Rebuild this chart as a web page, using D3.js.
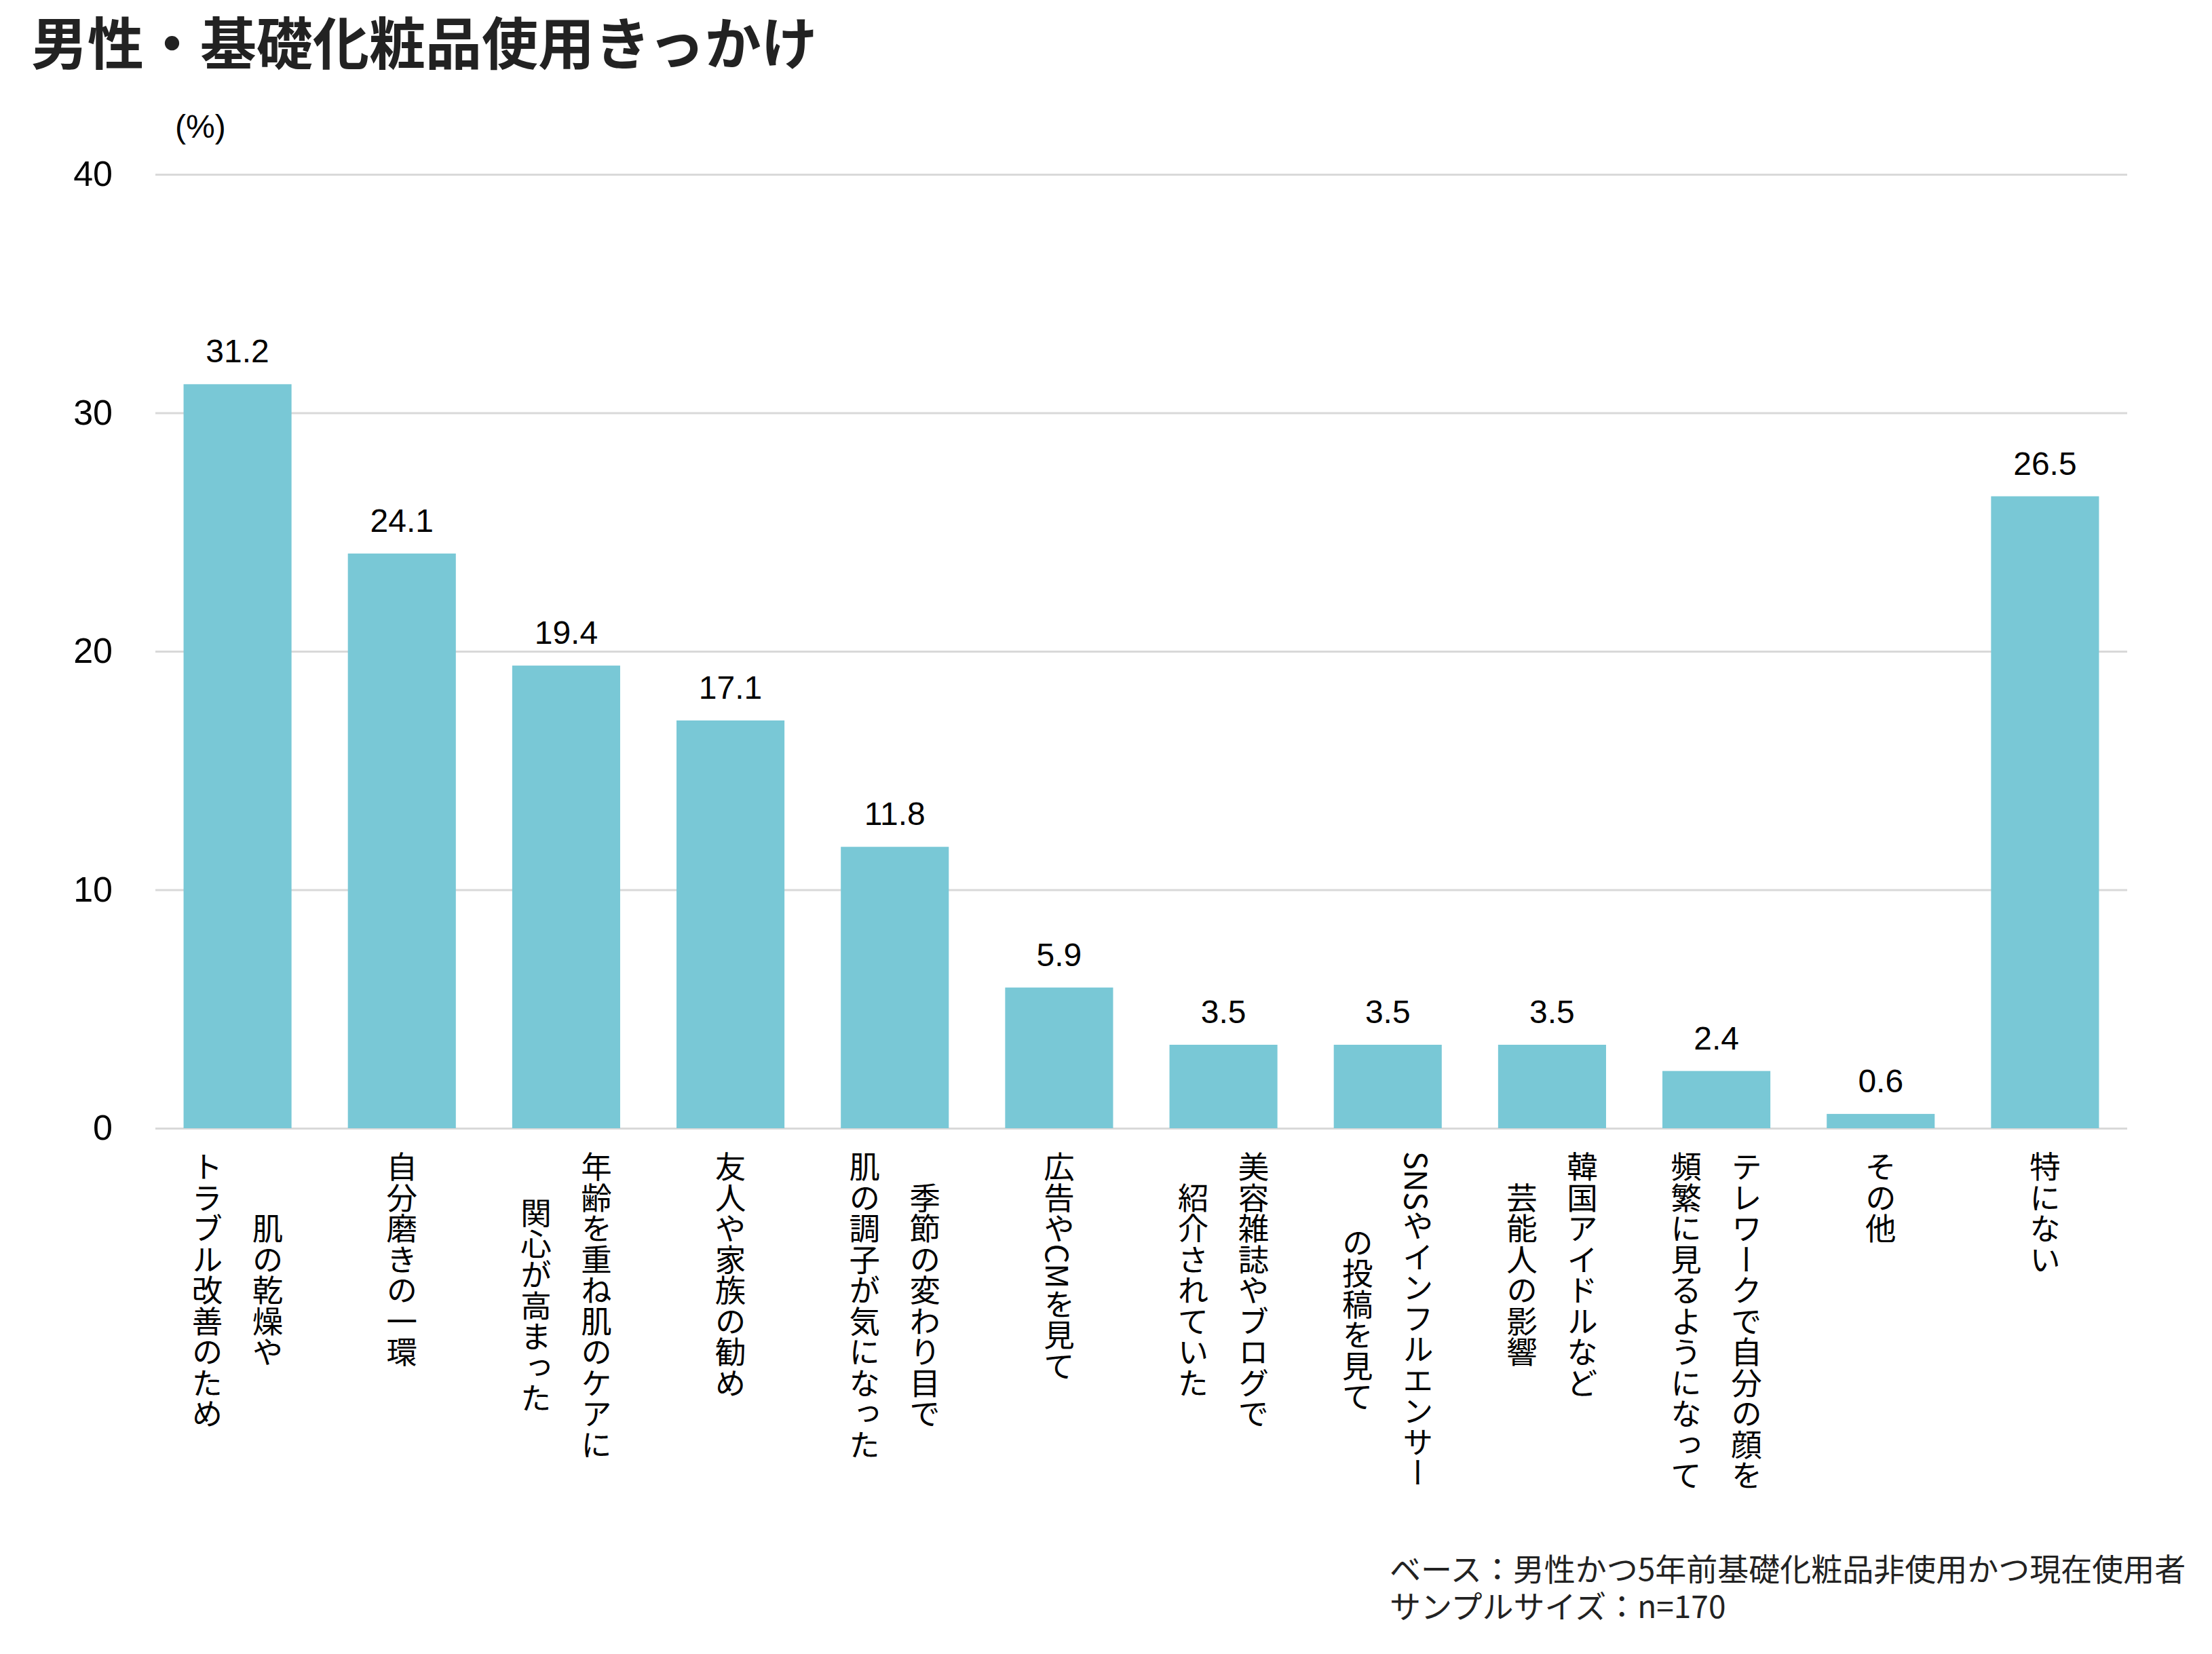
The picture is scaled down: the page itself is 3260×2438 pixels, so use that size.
<!DOCTYPE html>
<html><head><meta charset="utf-8">
<script src="https://cdn.jsdelivr.net/npm/d3@7"></script>
<style>body{margin:0;background:#fff} svg{display:block}</style>
</head><body><svg id="c" width="3260" height="2438"></svg>
<script>
const title = "男性・基礎化粧品使用きっかけ";
const unitLabel = "(%)";
const categoryLines = [
  ["肌の乾燥や","トラブル改善のため"],
  ["自分磨きの一環"],
  ["年齢を重ね肌のケアに","関心が高まった"],
  ["友人や家族の勧め"],
  ["季節の変わり目で","肌の調子が気になった"],
  ["広告やCMを見て"],
  ["美容雑誌やブログで","紹介されていた"],
  ["SNSやインフルエンサー","の投稿を見て"],
  ["韓国アイドルなど","芸能人の影響"],
  ["テレワークで自分の顔を","頻繁に見るようになって"],
  ["その他"],
  ["特にない"]
];
const values = [31.2, 24.1, 19.4, 17.1, 11.8, 5.9, 3.5, 3.5, 3.5, 2.4, 0.6, 26.5];
const yTicks = [0, 10, 20, 30, 40];
const notes = ["ベース：男性かつ5年前基礎化粧品非使用かつ現在使用者", "サンプルサイズ：n=170"];

const FONT = "'Liberation Sans', Arial, 'Noto Sans CJK JP', sans-serif";
const JFONT = "'Noto Sans CJK JP', 'Liberation Sans', sans-serif";
const svg = d3.select("#c");
const m = {left: 229, right: 3135, top: 257, bottom: 1663};

const x = d3.scaleBand().domain(d3.range(values.length)).range([m.left, m.right])
  .paddingInner(0.343).paddingOuter(0.1715);
const y = d3.scaleLinear().domain([0, 40]).range([m.bottom, m.top]);

// title
svg.append("text").attr("x", 46).attr("y", 95)
  .style("font-family", JFONT).style("font-weight", 700).style("font-size", "83px")
  .attr("fill", "#222").text(title);

// unit
svg.append("text").attr("x", 258).attr("y", 203)
  .style("font-family", FONT).style("font-size", "48px").attr("fill", "#000").text(unitLabel);

// grid + y axis
const yAxis = d3.axisLeft(y).tickValues(yTicks).tickSize(-(m.right - m.left)).tickPadding(63);
const gy = svg.append("g").attr("transform", `translate(${m.left},0)`).call(yAxis);
gy.select(".domain").remove();
gy.selectAll(".tick line").attr("stroke", "#d9d9d9").attr("stroke-width", 3);
gy.selectAll(".tick text").style("font-family", FONT).style("font-size", "52px").attr("fill", "#000");

// bars
svg.append("g").selectAll("rect").data(values).join("rect")
  .attr("x", (d, i) => x(i)).attr("width", x.bandwidth())
  .attr("y", d => y(d)).attr("height", d => y(0) - y(d))
  .attr("fill", "#79c8d6");

// value labels
svg.append("g").selectAll("text").data(values).join("text")
  .attr("x", (d, i) => x(i) + x.bandwidth() / 2).attr("y", d => y(d) - 32)
  .attr("text-anchor", "middle")
  .style("font-family", FONT).style("font-size", "48px").attr("fill", "#000")
  .text(d => d.toFixed(1));

// category labels (vertical)
const labelTop = m.bottom + 34;
const colGap = 89;
const gl = svg.append("g");
categoryLines.forEach((lines, i) => {
  const cx = x(i) + x.bandwidth() / 2;
  const n = lines.length;
  const texts = lines.map((ln, j) => gl.append("text")
    .attr("x", cx + ((n - 1) / 2 - j) * colGap)
    .attr("y", 0)
    .style("writing-mode", "vertical-rl")
    .attr("text-anchor", "middle")
    .style("font-family", JFONT).style("font-size", "45.5px").attr("fill", "#000")
    .text(ln));
  const maxLen = d3.max(texts, t => t.node().getComputedTextLength());
  texts.forEach(t => t.attr("y", labelTop + maxLen / 2));
});

// notes
svg.append("g").selectAll("text").data(notes).join("text")
  .attr("x", 2048).attr("y", (d, i) => 2330 + i * 55)
  .style("font-family", JFONT).style("font-size", "46px").attr("fill", "#222")
  .text(d => d);
</script></body></html>
